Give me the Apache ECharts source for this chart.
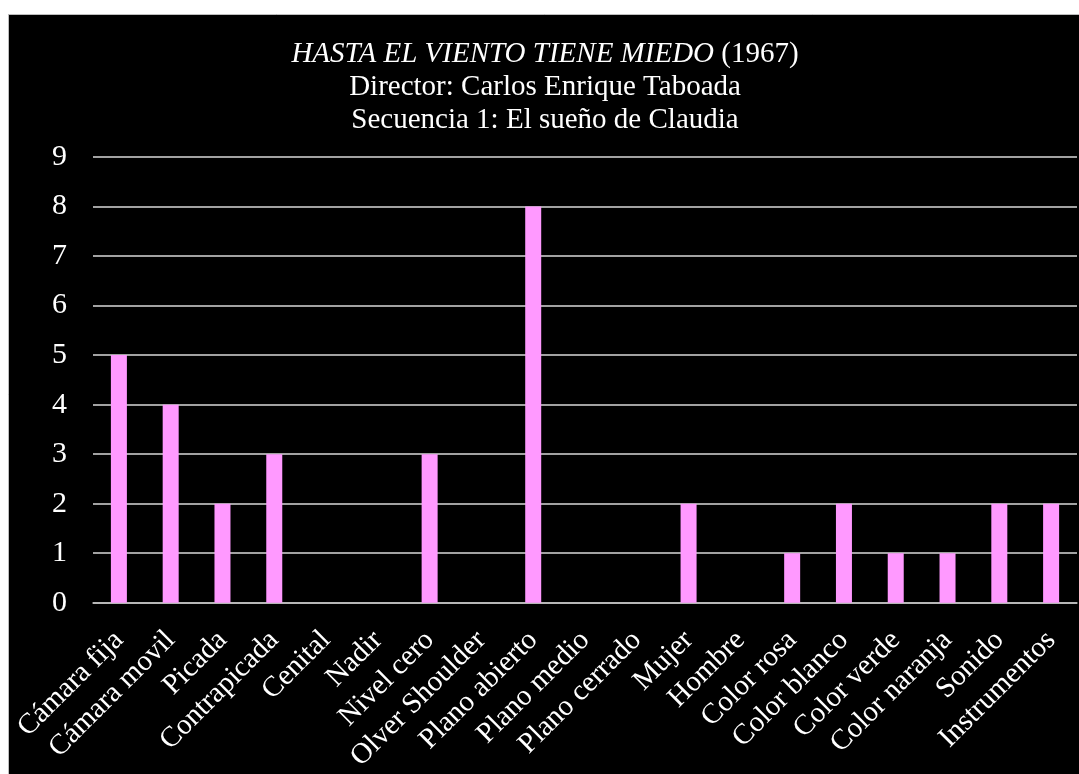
<!DOCTYPE html>
<html>
<head>
<meta charset="utf-8">
<script src="https://cdn.jsdelivr.net/npm/echarts@6/dist/echarts.min.js"></script>
<style>
html,body{margin:0;padding:0;background:#fff;}
#c{width:1079px;height:774px;}
</style>
</head>
<body>
<div id="c"></div>
<script>
const categories = ['Cámara fija','Cámara movil','Picada','Contrapicada','Cenital','Nadir','Nivel cero','Olver Shoulder','Plano abierto','Plano medio','Plano cerrado','Mujer','Hombre','Color rosa','Color blanco','Color verde','Color naranja','Sonido','Instrumentos'];
const values = [5,4,2,3,0,0,3,0,8,0,0,2,0,1,2,1,1,2,2];
const titleItalic = 'HASTA EL VIENTO TIENE MIEDO';
const titleYear = ' (1967)';
const subtitle1 = 'Director: Carlos Enrique Taboada';
const subtitle2 = 'Secuencia 1: El sueño de Claudia';

const font = '"Liberation Serif","Times New Roman",serif';
const chart = echarts.init(document.getElementById('c'));
chart.setOption({
  backgroundColor: '#fff',
  graphic: [{
    type: 'rect', z: -10, silent: true,
    shape: {x: 8.5, y: 14.5, width: 1100, height: 800},
    style: {fill: '#000', stroke: '#bdbdbd', lineWidth: 1}
  }],
  title: {
    left: 540, top: 33, textAlign: 'center',
    text: '{i|' + titleItalic + '}{n|' + titleYear + '}\n{n|' + subtitle1 + '}\n{n|' + subtitle2 + '}',
    textStyle: {
      color: '#fff', fontFamily: font, fontSize: 29, lineHeight: 33, fontWeight: 'normal',
      rich: {
        i: {fontStyle: 'italic', color: '#fff', fontFamily: font, fontSize: 29, lineHeight: 33},
        n: {color: '#fff', fontFamily: font, fontSize: 29, lineHeight: 33}
      }
    }
  },
  grid: {left: 93, right: 2, top: 157, bottom: 170, containLabel: false},
  xAxis: {
    type: 'category', data: categories,
    axisLine: {lineStyle: {color: '#bfbfbf', width: 1.5}},
    axisTick: {show: false},
    axisLabel: {color: '#fff', fontFamily: font, fontSize: 29, rotate: 45, interval: 0, margin: 33}
  },
  yAxis: {
    type: 'value', min: 0, max: 9, interval: 1,
    axisLine: {show: false}, axisTick: {show: false},
    splitLine: {lineStyle: {color: '#d9d9d9', width: 1.5}},
    axisLabel: {color: '#fff', fontFamily: font, fontSize: 30, margin: 26}
  },
  series: [{
    type: 'bar', data: values, barWidth: 16,
    itemStyle: {color: '#ff99ff'}
  }]
});
</script>
</body>
</html>
